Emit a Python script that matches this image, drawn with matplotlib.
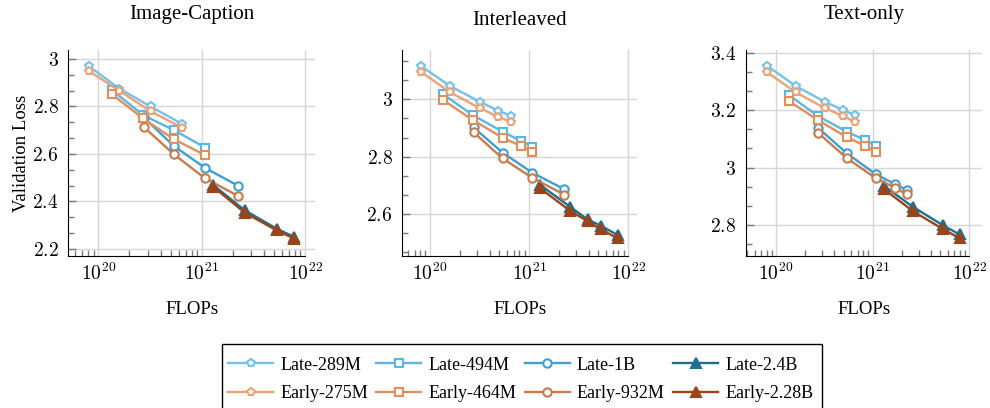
import numpy as np
import matplotlib
matplotlib.use("Agg")
import matplotlib.pyplot as plt
from matplotlib.patches import Rectangle
from matplotlib.ticker import (MultipleLocator, AutoMinorLocator, FixedLocator,
                               FuncFormatter, NullFormatter)

plt.rcParams['font.family'] = ['Liberation Serif', 'DejaVu Serif']
plt.rcParams['mathtext.fontset'] = 'cm'

# FLOPs per model size (5 checkpoints each)
flops_s1 = [8.1e19, 1.6e20, 3.2e20, 4.9e20, 6.5e20]    # 289M / 275M
flops_s2 = [1.35e20, 2.7e20, 5.4e20, 8.3e20, 1.08e21]  # 494M / 464M
flops_s3 = [2.75e20, 5.4e20, 1.08e21, 1.7e21, 2.25e21] # 1B / 932M
flops_s4 = [1.3e21, 2.6e21, 3.9e21, 5.3e21, 7.9e21]    # 2.4B / 2.28B

nan = np.nan

# Image-Caption
ic_late289 = [2.97, 2.875, 2.80, nan, 2.726]
ic_early275 = [2.95, 2.866, 2.78, nan, 2.71]
ic_late494 = [2.87, 2.764, 2.70, nan, 2.627]
ic_early464 = [2.852, 2.75, 2.662, nan, 2.595]
ic_late1b = [2.754, 2.633, 2.541, nan, 2.466]
ic_early932 = [2.714, 2.598, 2.497, nan, 2.423]
ic_late24 = [2.468, 2.363, nan, 2.285, 2.25]
ic_early228 = [2.461, 2.353, nan, 2.278, 2.243]

# Interleaved
il_late289 = [3.116, 3.046, 2.991, 2.96, 2.943]
il_early275 = [3.096, 3.024, 2.969, 2.939, 2.922]
il_late494 = [3.018, 2.945, 2.887, 2.855, 2.835]
il_early464 = [2.998, 2.928, 2.866, 2.837, 2.817]
il_late1b = [2.902, 2.814, 2.744, nan, 2.687]
il_early932 = [2.885, 2.794, 2.726, nan, 2.668]
il_late24 = [2.701, 2.625, 2.581, 2.559, 2.526]
il_early228 = [2.689, 2.611, 2.575, 2.546, 2.515]

# Text-only
to_late289 = [3.354, 3.284, 3.229, 3.201, 3.183]
to_early275 = [3.332, 3.262, 3.207, 3.180, 3.160]
to_late494 = [3.253, 3.180, 3.125, 3.096, 3.076]
to_early464 = [3.232, 3.166, 3.106, 3.076, 3.056]
to_late1b = [3.137, 3.050, 2.977, 2.943, 2.922]
to_early932 = [3.12, 3.033, 2.963, 2.930, 2.907]
to_late24 = [2.937, 2.864, nan, 2.80, 2.768]
to_early228 = [2.926, 2.849, nan, 2.787, 2.755]

titles = ['Image-Caption', 'Interleaved', 'Text-only']
labels = ['Late-289M', 'Late-494M', 'Late-1B', 'Late-2.4B',
          'Early-275M', 'Early-464M', 'Early-932M', 'Early-2.28B']
colors = ['#72c2ea', '#5db5e4', '#3f9fd0', '#216f8f',
          '#eca177', '#e08f5f', '#c87c4c', '#9c4419']
markers = ['p', 's', 'o', '^', 'p', 's', 'o', '^']
xs = [flops_s1, flops_s2, flops_s3, flops_s4] * 2

panels = [
    [ic_late289, ic_late494, ic_late1b, ic_late24, ic_early275, ic_early464, ic_early932, ic_early228],
    [il_late289, il_late494, il_late1b, il_late24, il_early275, il_early464, il_early932, il_early228],
    [to_late289, to_late494, to_late1b, to_late24, to_early275, to_early464, to_early932, to_early228],
]

fig = plt.figure(figsize=(9.9, 4.08), dpi=100)
W, H = 990, 408
boxes = [(68.3, 315), (402.3, 637), (746, 982)]
xlims = [(10**19.71, 10**22.096), (10**19.72, 10**22.09), (10**19.69, 10**22.13)]
ylims = [(2.17, 3.038), (2.4535, 3.172), (2.693, 3.409)]
title_pads = [22, 18, 22.5]

major_x = [1e20, 1e21, 1e22]
minor_x = [m * 10.0 ** e for e in range(19, 22) for m in range(2, 10)]

handles = []
for i in range(3):
    l, r = boxes[i]
    ax = fig.add_axes([l / W, 1 - 256 / H, (r - l) / W, 206 / H])
    for j in range(8):
        x = np.array(xs[j])
        y = np.array(panels[i][j])
        ok = ~np.isnan(y)
        tri = markers[j] == '^'
        h, = ax.plot(x[ok], y[ok], color=colors[j], lw=1.7, marker=markers[j],
                     ms=7 if tri else 6, mew=1.5,
                     mfc=colors[j] if tri else 'white', mec=colors[j],
                     label=labels[j], zorder=3 + j)
        if i == 0:
            handles.append(h)
    ax.set_xscale('log')
    ax.set_xlim(*xlims[i])
    ax.set_ylim(*ylims[i])
    ax.xaxis.set_major_locator(FixedLocator(major_x))
    ax.xaxis.set_minor_locator(FixedLocator(minor_x))
    ax.xaxis.set_major_formatter(FuncFormatter(lambda v, p: '$10^{%d}$' % round(np.log10(v))))
    ax.xaxis.set_minor_formatter(NullFormatter())
    ax.yaxis.set_major_locator(MultipleLocator(0.2))
    ax.yaxis.set_minor_locator(AutoMinorLocator(3))
    ax.yaxis.set_major_formatter(FuncFormatter(lambda v, p: '$%g$' % round(v, 2)))
    ax.grid(True, which='major', color='#d6d6d6', lw=1)
    ax.set_axisbelow(True)
    for s in ['top', 'right']:
        ax.spines[s].set_visible(False)
    ax.spines['bottom'].set_bounds(xlims[i][0], 1e22)
    ax.tick_params(which='both', direction='in', color='#7a7a7a', labelsize=14)
    ax.tick_params(which='major', length=6, width=1)
    ax.tick_params(which='minor', length=4.5, width=1)
    ax.tick_params(axis='y', pad=7)
    ax.tick_params(axis='x', pad=5)
    ax.tick_params(axis='x', which='major', length=0)
    ax.set_xlabel('FLOPs', fontsize=13.5, labelpad=12)
    ax.set_title(titles[i], fontsize=15, pad=title_pads[i])
    if i == 0:
        ax.set_ylabel('Validation Loss', fontsize=13.5, labelpad=2)

# legend frame runs off the bottom edge, so draw it separately
fig.add_artist(Rectangle((222 / W, 1 - 430 / H), 600 / W, 86 / H,
                         transform=fig.transFigure, fill=False,
                         edgecolor='black', lw=1))

# legend fills column by column, so interleave late/early to get rows
order = [0, 4, 1, 5, 2, 6, 3, 7]
fig.legend(handles=[handles[k] for k in order], labels=[labels[k] for k in order],
           ncol=4, loc='center left',
           bbox_to_anchor=(228 / W, 1 - 379.5 / H), fontsize=13,
           frameon=False, borderpad=0, handlelength=2.5, handletextpad=0.4,
           columnspacing=0.45, labelspacing=0.65, borderaxespad=0)
fig.savefig('out.png', dpi=100)
